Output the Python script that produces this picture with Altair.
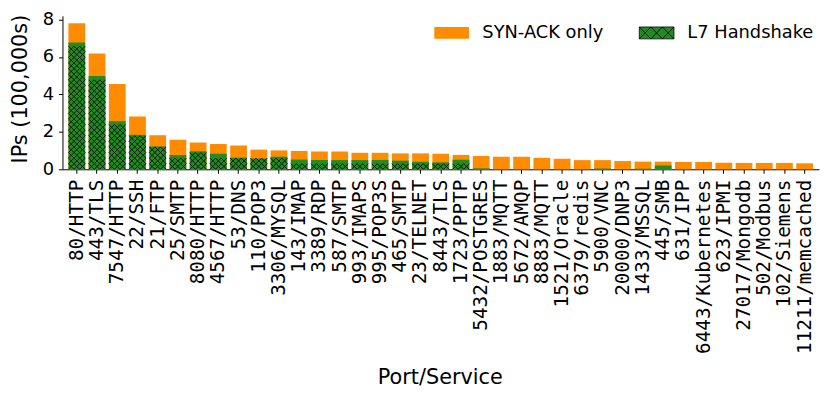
import altair as alt
import pandas as pd

ports = ["80/HTTP", "443/TLS", "7547/HTTP", "22/SSH", "21/FTP", "25/SMTP", "8080/HTTP",
         "4567/HTTP", "53/DNS", "110/POP3", "3306/MYSQL", "143/IMAP", "3389/RDP", "587/SMTP",
         "993/IMAPS", "995/POP3S", "465/SMTP", "23/TELNET", "8443/TLS", "1723/PPTP",
         "5432/POSTGRES", "1883/MQTT", "5672/AMQP", "8883/MQTT", "1521/Oracle", "6379/redis",
         "5900/VNC", "20000/DNP3", "1433/MSSQL", "445/SMB", "631/IPP", "6443/Kubernetes",
         "623/IPMI", "27017/Mongodb", "502/Modbus", "102/Siemens", "11211/memcached"]
syn_ack_total = [7.80, 6.19, 4.56, 2.82, 1.82, 1.58, 1.43, 1.35, 1.27, 1.05, 1.01, 0.98, 0.95,
                 0.95, 0.88, 0.88, 0.85, 0.85, 0.83, 0.77, 0.71, 0.67, 0.67, 0.61, 0.56, 0.49,
                 0.49, 0.44, 0.41, 0.41, 0.39, 0.39, 0.35, 0.34, 0.34, 0.34, 0.32]
l7_handshake = [6.78, 4.98, 2.57, 1.84, 1.22, 0.76, 0.96, 0.83, 0.62, 0.57, 0.67, 0.52, 0.49,
                0.49, 0.49, 0.50, 0.46, 0.40, 0.37, 0.51, 0.05, 0.0, 0.0, 0.0, 0.0, 0.0,
                0.04, 0.0, 0.03, 0.20, 0.0, 0.0, 0.0, 0.0, 0.0, 0.0, 0.0]
series = ["SYN-ACK only", "L7 Handshake"]

df = pd.DataFrame({"port": ports, "SYN-ACK only": syn_ack_total, "L7 Handshake": l7_handshake})

ORANGE = "#FF8C00"
GREEN = "#228B22"
W, H, YMAX = 764, 155, 8.2
N = len(ports)
PI, PO = 0.17, 0.295
step = W / (N - PI + 2 * PO)
bw = step * (1 - PI)
hrow = (bw / 3) / (H / YMAX)

HATCH = ("M-1,-0.3333L-0.3333,0.3333M-1,0.3333L-0.3333,-0.3333"
         "M-0.3333,-0.3333L0.3333,0.3333M-0.3333,0.3333L0.3333,-0.3333"
         "M0.3333,-0.3333L1,0.3333M0.3333,0.3333L1,-0.3333")
LEG = ("M-1,-0.343H1V0.343H-1Z"
       "M-1,-0.343L-0.3333,0.343M-1,0.343L-0.3333,-0.343"
       "M-0.3333,-0.343L0.3333,0.343M-0.3333,0.343L0.3333,-0.343"
       "M0.3333,-0.343L1,0.343M0.3333,0.343L1,-0.343")

xenc = alt.X(
    "port:N", sort=ports,
    scale=alt.Scale(paddingInner=PI, paddingOuter=PO),
    axis=alt.Axis(labelAngle=270, labelFont="DejaVu Sans Mono", labelFontSize=19.5,
                  labelPadding=6, tickSize=4, labelLimit=400, labelOverlap=False,
                  labelColor="black", tickColor="black", domainColor="black",
                  title="Port/Service", titleFont="DejaVu Sans", titleFontSize=21,
                  titleFontWeight="normal", titleColor="black", titleX=381, titleY=216,
                  titleBaseline="alphabetic", titleAlign="center"),
)
yscale = alt.Scale(domain=[0, YMAX], nice=False, zero=True)
yaxis = alt.Axis(values=[0, 2, 4, 6, 8], grid=False, tickSize=4, labelPadding=5,
                 labelFont="DejaVu Sans", labelFontSize=18, labelColor="black",
                 tickColor="black", domainColor="black",
                 title="IPs (100,000s)", titleFont="DejaVu Sans", titleFontSize=21,
                 titleFontWeight="normal", titleColor="black", titleX=-36, titleY=73.5,
                 titleBaseline="alphabetic", titleAngle=270, titleAlign="center")

base = alt.Chart(df)

bars = base.transform_fold(series, as_=["series", "value"]).mark_bar(opacity=1).encode(
    x=xenc,
    y=alt.Y("value:Q", stack=None, scale=yscale, axis=yaxis),
    color=alt.Color(
        "series:N",
        scale=alt.Scale(domain=series, range=[ORANGE, GREEN]),
        legend=alt.Legend(
            title=None, orient="none", legendX=375, legendY=-0.7, direction="horizontal",
            padding=0, symbolType=LEG, symbolSize=1225, symbolStrokeWidth=0.8,
            symbolOpacity=1, labelFont="DejaVu Sans", labelFontSize=18,
            labelColor="black", labelOffset=13, columnPadding=33,
            symbolStrokeColor={"expr": "datum.value === 'L7 Handshake' ? 'black' : 'transparent'"},
        ),
    ),
)

hatch = base.transform_filter(
    f"datum['L7 Handshake'] >= {hrow}"
).transform_calculate(
    hy=f"sequence({hrow / 2}, datum['L7 Handshake'] - {hrow * 0.3}, {hrow})"
).transform_flatten(["hy"]).mark_point(
    shape=HATCH, size=bw * bw, filled=False, stroke="black", strokeWidth=0.8, opacity=1
).encode(
    x=xenc,
    y=alt.Y("hy:Q", scale=yscale, axis=yaxis),
)

chart = alt.layer(bars, hatch).properties(
    width=W, height=H,
    autosize=alt.AutoSizeParams(type="none"),
    padding={"left": 55, "top": 6, "right": 3, "bottom": 220},
    background="white",
).configure_view(stroke=None)

chart.save("out.html", embed_options={"renderer": "svg", "actions": False})
